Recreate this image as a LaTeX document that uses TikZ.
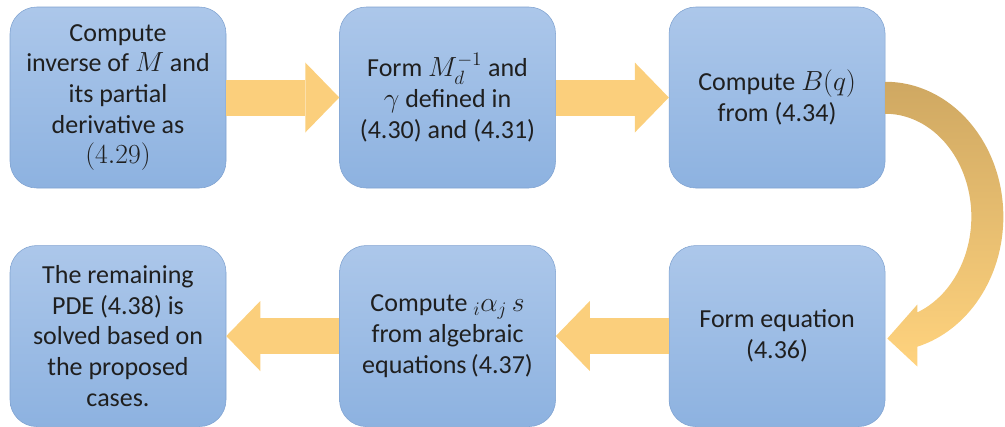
\documentclass[tikz,border=0pt]{standalone}
\usepackage{amsmath,amssymb}
\usepackage{fontspec}
\setmainfont{Carlito}
\usepackage{tikz}
\usetikzlibrary{arrows.meta,positioning,calc}
\definecolor{boxtop}{HTML}{ACC7EA}
\definecolor{boxbot}{HTML}{8DB2E0}
\definecolor{boxline}{HTML}{7FA2D0}
\definecolor{flowfill}{HTML}{FBCF7C}
\definecolor{bendtop}{HTML}{CFA862}
\definecolor{bendbot}{HTML}{FFD37E}
\tikzset{
  block/.style={draw=boxline,top color=boxtop,bottom color=boxbot,
    rounded corners=20pt,align=center,minimum width=162pt,
    minimum height=135.75pt,font=\fontsize{19.5}{23}\selectfont,text=black!88},
  fatarrow/.style={draw=flowfill,line width=27pt,
    -{Triangle[length=25.5pt,width=52.5pt,line width=0pt]}},
  curvearrow/.style={top color=bendtop,bottom color=bendbot}
}
\begin{document}
\begin{tikzpicture}[x=0.75pt,y=0.75pt,node distance=42.75pt and 84.75pt]
  \useasboundingbox (0,0) rectangle (1005,-426);
  \node[block] (inv) at (118,-97.5) {Compute\\inverse of $M$ and\\its partial\\derivative as\\$(4.29)$};
  \node[block,right=of inv] (form) {Form $M_d^{-1}$ and\\$\gamma$ defined in\\(4.30) and (4.31)};
  \node[block,right=of form] (bq) {Compute $B(q)$\\from (4.34)};
  \node[block,below=of bq] (eqn) {Form equation\\(4.36)};
  \node[block,left=of eqn] (alg) {Compute ${}_i\alpha_j\,s$\\from algebraic\\equations\,(4.37)};
  \node[block,left=of alg] (pde) {The remaining\\PDE (4.38) is\\solved based on\\the proposed\\cases.};
  \draw[fatarrow] (inv) -- (form);
  \draw[fatarrow] (form) -- (bq);
  \draw[fatarrow] (eqn) -- (alg);
  \draw[fatarrow] (alg) -- (pde);
  \coordinate (mid) at ($(bq.east)!0.5!(eqn.east)$);
  \shade[curvearrow] ($(mid)+(0,135)$) arc[start angle=90,end angle=-74.3,x radius=118,y radius=135]
    -- ($(mid)+(32,-149.75)$) -- ($(mid)+(2,-121.75)$) -- ($(mid)+(32,-87.75)$)
    -- ($(mid)+(-68.2:86 and 103)$)
    arc[start angle=-68.2,end angle=90,x radius=86,y radius=103] -- cycle;
\end{tikzpicture}
\end{document}
